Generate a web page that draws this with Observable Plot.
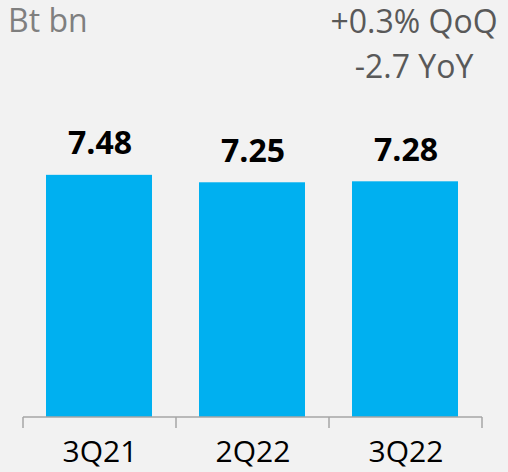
<!DOCTYPE html>
<html>
<head>
<meta charset="utf-8">
<script src="https://cdn.jsdelivr.net/npm/d3@7"></script>
<script src="https://cdn.jsdelivr.net/npm/@observablehq/plot@0.6"></script>
<style>
  html, body { margin: 0; padding: 0; background: #F2F2F2; }
  #wrap { width: 508px; font-family: "Open Sans", sans-serif; }
  #header { position: relative; width: 508px; height: 85px; }
  .hdr { position: absolute; font-size: 32px; line-height: 36px; white-space: nowrap; }
  #unit { left: 8px; top: 2px; color: #7F7F7F; }
  .chg { color: #595959; width: 200px; text-align: center; left: 314px; }
  #qoq { top: 3px; }
  #yoy { top: 48px; }
  #chart svg { display: block; }
</style>
</head>
<body>
<div id="wrap">
  <div id="header">
    <div class="hdr" id="unit"></div>
    <div class="hdr chg" id="qoq"></div>
    <div class="hdr chg" id="yoy"></div>
  </div>
  <div id="chart"></div>
</div>
<script>
const categories = ["3Q21", "2Q22", "3Q22"];
const values = [7.48, 7.25, 7.28];
const unitLabel = "Bt bn";
const changeLabels = ["+0.3% QoQ", "-2.7 YoY"];

document.getElementById("unit").textContent = unitLabel;
document.getElementById("qoq").textContent = changeLabels[0];
document.getElementById("yoy").textContent = changeLabels[1];

const data = categories.map((c, i) => ({cat: c, value: values[i]}));

const axisColor = "#A6A6A6";

function bandAxis(index, scales, values, dimensions) {
  const x = scales.x;
  const y = scales.y;
  const bw = x.bandwidth ? x.bandwidth() : (dimensions.width - dimensions.marginLeft - dimensions.marginRight) / categories.length;
  const y0 = y(0);
  const g = d3.create("svg:g").attr("stroke", axisColor).attr("stroke-width", 1.5).attr("fill", "none");
  const left = x(categories[0]);
  const right = x(categories[categories.length - 1]) + bw;
  g.append("line").attr("x1", left).attr("x2", right).attr("y1", y0).attr("y2", y0);
  const edges = categories.map(c => x(c)).concat([right]);
  for (const e of edges) {
    g.append("line").attr("x1", e).attr("x2", e).attr("y1", y0).attr("y2", y0 + 11);
  }
  return g.node();
}

const plot = Plot.plot({
  width: 508,
  height: 387,
  marginLeft: 22,
  marginRight: 25,
  marginTop: 73,
  marginBottom: 55,
  style: {background: "transparent", fontFamily: "Open Sans, sans-serif", overflow: "visible"},
  x: {type: "band", domain: categories, padding: 0, label: null},
  y: {domain: [0, 8], axis: null},
  marks: [
    Plot.barY(data, {x: "cat", y: "value", fill: "#00B0F0", insetLeft: 23, insetRight: 24}),
    Plot.text(data, {x: "cat", y: "value", text: d => d.value.toFixed(2), fontSize: 32, fontWeight: "bold", fill: "#000", lineAnchor: "bottom", dy: -21}),
    bandAxis,
    Plot.axisX({tickSize: 0, tickPadding: 23, fontSize: 30, color: "#000", label: null})
  ]
});
document.getElementById("chart").appendChild(plot);
</script>
</body>
</html>
